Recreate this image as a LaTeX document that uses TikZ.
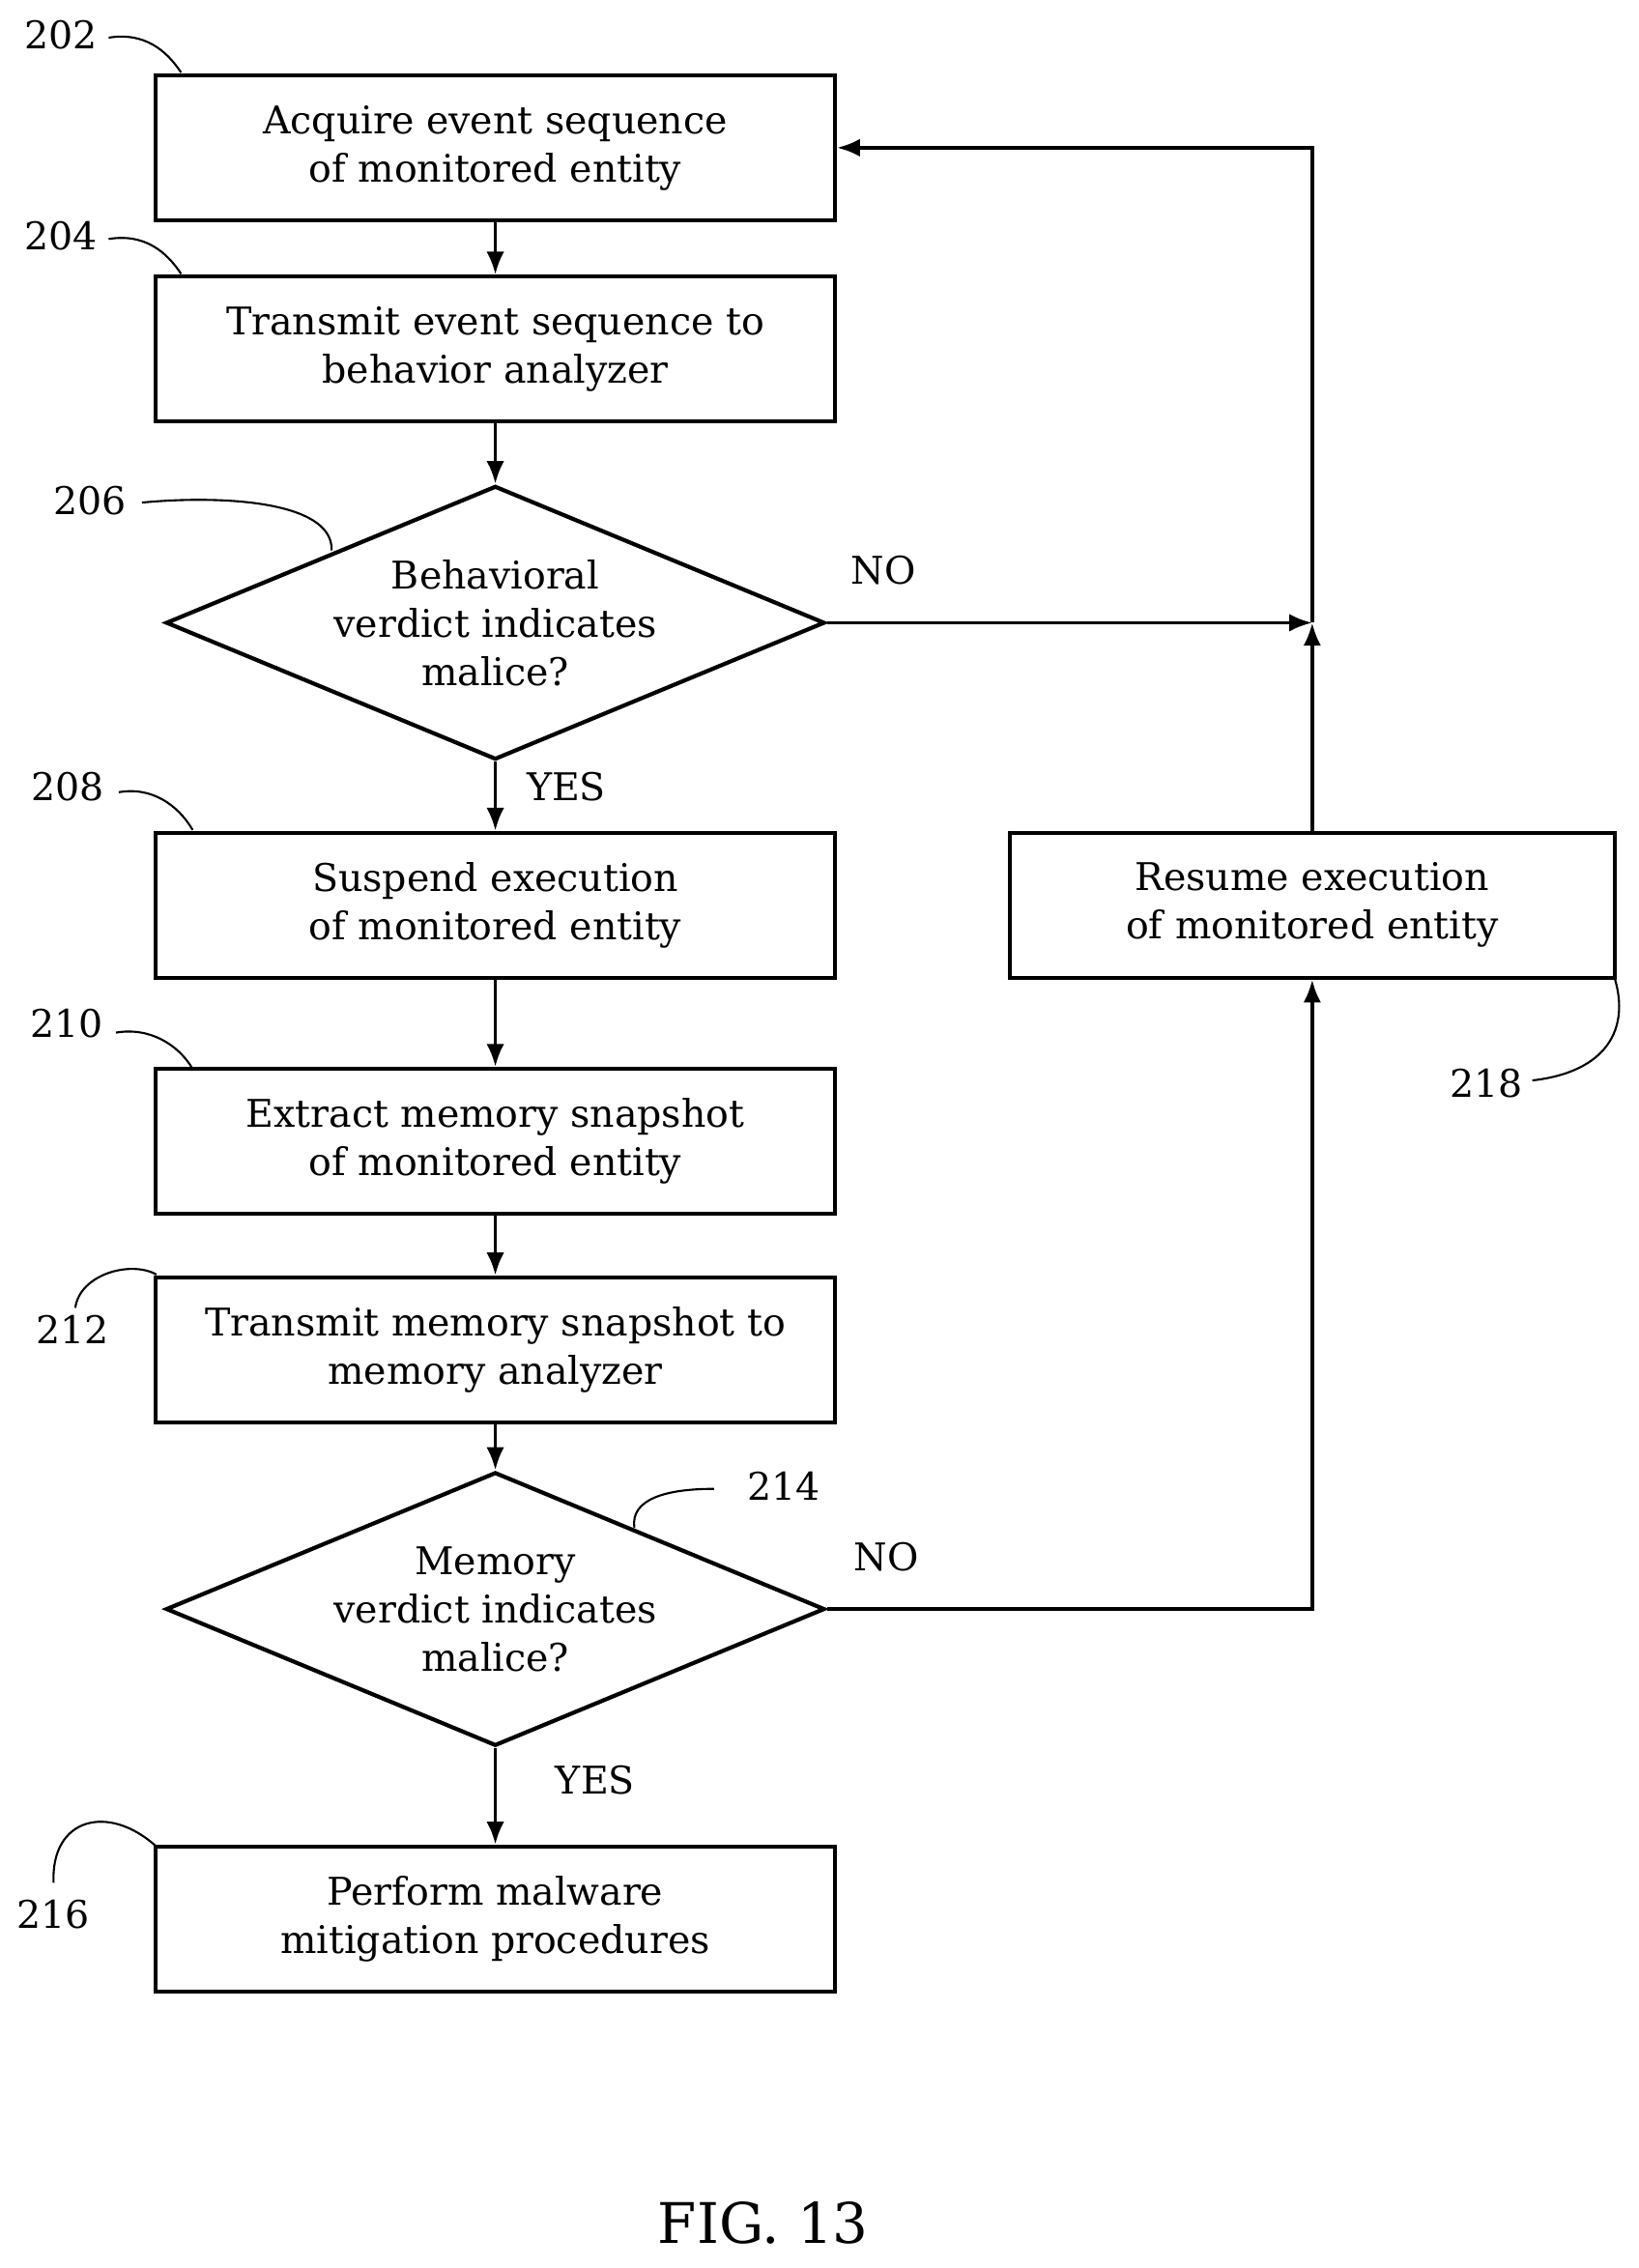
\documentclass[tikz,border=0pt]{standalone}
\usepackage{fontspec}
\setmainfont{DejaVu Serif}
\usetikzlibrary{shapes.geometric,arrows.meta}
\begin{document}
\begin{tikzpicture}[x=0.02cm,y=-0.02cm,
  every node/.style={font=\fontsize{15}{19}\selectfont},
  box/.style={draw,line width=1.6pt,minimum width=9.38cm,minimum height=2cm,align=center,inner sep=0},
  dia/.style={draw,line width=1.6pt,diamond,minimum width=9.1cm,minimum height=3.78cm,inner sep=0,align=center,aspect=2.4},
  ar/.style={line width=1.4pt,-{Latex[length=9pt,width=7pt]}},
  ln/.style={line width=1.4pt},
  lead/.style={line width=0.8pt}]
\useasboundingbox (0,0) rectangle (1131,1566);
\node[box] (b202) at (342,102) {Acquire event sequence\\of monitored entity};
\node[box] (b204) at (342,241) {Transmit event sequence to\\behavior analyzer};
\node[dia] (d206) at (342,430) {Behavioral\\verdict indicates\\malice?};
\node[box] (b208) at (342,625) {Suspend execution\\of monitored entity};
\node[box] (b210) at (342,788) {Extract memory snapshot\\of monitored entity};
\node[box] (b212) at (342,932) {Transmit memory snapshot to\\memory analyzer};
\node[dia] (d214) at (342,1111) {Memory\\verdict indicates\\malice?};
\node[box] (b216) at (342,1325) {Perform malware\\mitigation procedures};
\node[box,minimum width=8.36cm] (b218) at (906,625) {Resume execution\\of monitored entity};
\coordinate (j1) at (906,430);
\coordinate (c1) at (906,102);
\coordinate (c2) at (906,1111);
\draw[ar] (b202) -- (b204);
\draw[ar] (b204) -- (d206);
\draw[ar] (d206) -- (b208);
\draw[ar] (b208) -- (b210);
\draw[ar] (b210) -- (b212);
\draw[ar] (b212) -- (d214);
\draw[ar] (d214) -- (b216);
\draw[ar] (d206.east) -- (j1);
\draw[ar] (b218.north) -- (j1);
\draw[ar] (j1) -- (c1) -- (b202.east);
\draw[ar] (d214.east) -- (c2) -- (b218.south);
\node (no1) at (610,394) {NO};
\node (no2) at (612,1075) {NO};
\node (yes1) at (391,543) {YES};
\node (yes2) at (411,1229) {YES};
\node[font=\fontsize{22}{26}\selectfont] (fig) at (527,1535) {FIG. 13};
\node (l202) at (42,24) {202};
\node (l204) at (42,163) {204};
\node (l206) at (62,346) {206};
\node (l208) at (47,543) {208};
\node (l210) at (46,707) {210};
\node (l212) at (50,918) {212};
\node (l214) at (541,1026) {214};
\node (l216) at (37,1322) {216};
\node (l218) at (1026,748) {218};
\draw[lead] (75,26) .. controls (100,22) and (115,35) .. (125,50);
\draw[lead] (75,165) .. controls (100,161) and (115,174) .. (125,189);
\draw[lead] (98,347) .. controls (150,342) and (230,345) .. (229,380);
\draw[lead] (82,547) .. controls (105,543) and (123,556) .. (133,573);
\draw[lead] (80,713) .. controls (103,709) and (123,721) .. (133,738);
\draw[lead] (52,903) .. controls (55,880) and (90,870) .. (108,880);
\draw[lead] (493,1028) .. controls (460,1028) and (435,1035) .. (438,1055);
\draw[lead] (37,1300) .. controls (35,1255) and (75,1245) .. (108,1275);
\draw[lead] (1058,746) .. controls (1110,740) and (1125,710) .. (1115,676);
\end{tikzpicture}
\end{document}
